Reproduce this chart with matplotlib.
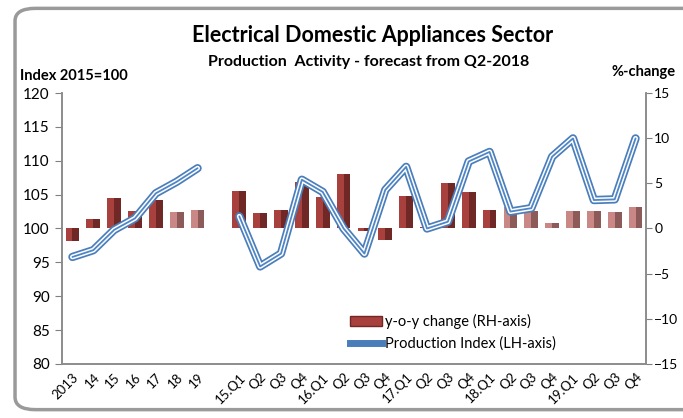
import numpy as np
import matplotlib
matplotlib.use("Agg")
import matplotlib.pyplot as plt
from matplotlib.patches import FancyBboxPatch, Patch
from matplotlib.lines import Line2D

plt.rcParams['font.family'] = ['Lato', 'DejaVu Sans']

labels = ["2013", "14", "15", "16", "17", "18", "19", "",
          "15.Q1", "Q2", "Q3", "Q4", "16.Q1", "Q2", "Q3", "Q4",
          "17.Q1", "Q2", "Q3", "Q4", "18.Q1", "Q2", "Q3", "Q4",
          "19.Q1", "Q2", "Q3", "Q4"]

# production index (LH axis), nan = gap between annual and quarterly parts
index = [95.8, 96.8, 99.8, 101.5, 105.2, 106.9, 108.9, np.nan,
         101.8, 94.4, 96.3, 107.2, 105.4, 100.0, 96.3, 105.7,
         109.1, 100.0, 101.0, 109.9, 111.3, 102.5, 103.0, 110.6,
         113.3, 104.2, 104.3, 113.3]

# y-o-y change in % (RH axis)
yoy = [-1.4, 1.1, 3.4, 1.9, 3.2, 1.8, 2.0, np.nan,
       4.2, 1.75, 2.1, 5.1, 3.45, 6.0, -0.3, -1.3,
       3.6, 0.2, 5.0, 4.0, 2.0, 2.35, 1.9, 0.65,
       1.9, 1.9, 1.8, 2.4]

# True = forecast (from Q2-2018)
forecast = [False] * 5 + [True, True, False] + [False] * 13 + [True] * 7

x = np.arange(len(labels))
yoy = np.array(yoy)
w = 0.66

fig = plt.figure(figsize=(6.83, 4.18), dpi=100)
fig.patches.append(FancyBboxPatch((0.022, 0.02), 1.2, 0.96, boxstyle="round,pad=0,rounding_size=0.03",
                                  transform=fig.transFigure, fc='white', ec='#9a9a9a', lw=2.5, zorder=-1))

ax2 = fig.add_axes([0.0908, 0.1292, 0.855, 0.6483])
ax = ax2.twinx()
ax.yaxis.tick_left()
ax2.yaxis.tick_right()

# bars on right axis, two tones for the bevelled look
left_c = ['#c98886' if f else '#a8403e' for f in forecast]
right_c = ['#8c5a58' if f else '#702827' for f in forecast]
ax2.bar(x - w / 4, yoy, width=w / 2, color=left_c, zorder=2)
ax2.bar(x + w / 4, yoy, width=w / 2, color=right_c, zorder=2)
ax2.set_ylim(-15, 15)
ax2.set_yticks(range(-15, 16, 5))

# index line on left axis
ax.plot(x, index, color='#4a7ebb', lw=6, solid_capstyle='round', solid_joinstyle='round', zorder=3)
ax.plot(x, index, color='white', lw=3.5, solid_capstyle='round', solid_joinstyle='round', zorder=4)
ax.plot(x, index, color='#4f86c6', lw=1.3, solid_capstyle='round', solid_joinstyle='round', zorder=5)
ax.set_ylim(80, 120)
ax.set_yticks(range(80, 121, 5))
ax.set_xlim(-0.5, len(labels) - 0.5)

ax2.set_xticks(x)
ax2.set_xticklabels(labels, rotation=45, ha='right', rotation_mode='anchor', fontsize=9.5)
ax2.tick_params(axis='x', length=0, pad=5)
ax2.tick_params(axis='y', labelsize=10, length=4, color='#808080', pad=2)
ax.tick_params(axis='y', labelsize=11, length=5, color='#808080', pad=4)

for a in (ax, ax2):
    a.spines['top'].set_visible(False)
    for s in ('left', 'right', 'bottom'):
        a.spines[s].set_color('#8c8c8c')
        a.spines[s].set_linewidth(1.2)
ax.patch.set_visible(False)

handles = [Patch(facecolor='#a8403e', edgecolor='#702827'),
           Line2D([0], [0], color='#4a7ebb', lw=5)]
ax.legend(handles, ['y-o-y change (RH-axis)', 'Production Index (LH-axis)'],
          loc='lower left', bbox_to_anchor=(0.47, 0.0), frameon=False, fontsize=10.5,
          handlelength=2.2, handletextpad=0.2, labelspacing=0.5)

fig.text(0.545, 0.915, 'Electrical Domestic Appliances Sector', ha='center', va='center',
         fontsize=15.5, fontweight='bold')
fig.text(0.54, 0.852, 'Production  Activity - forecast from Q2-2018', ha='center', va='center',
         fontsize=11.5, fontweight='bold')
fig.text(0.03, 0.818, 'Index 2015=100', ha='left', va='center', fontsize=10.5, fontweight='bold')
fig.text(0.895, 0.828, '%-change', ha='left', va='center', fontsize=10.5, fontweight='bold')

fig.savefig('out.png', dpi=100)
